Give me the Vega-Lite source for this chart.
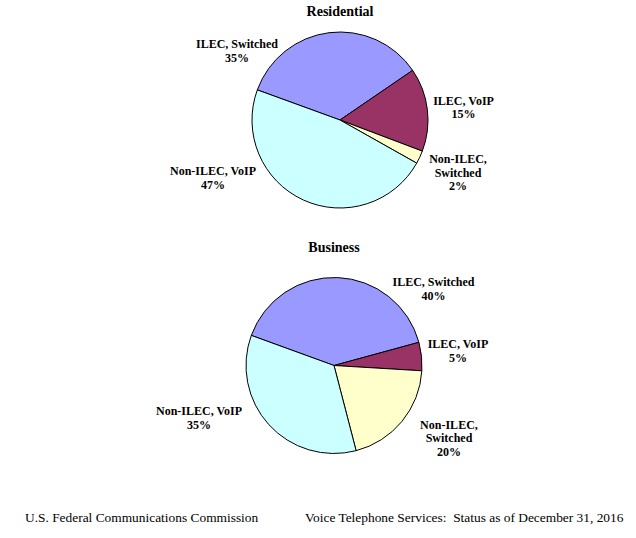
{
  "$schema": "https://vega.github.io/schema/vega-lite/v6.json",
  "background": "white",
  "padding": {"left": 25, "top": 5, "right": 0, "bottom": 10},
  "datasets": {
    "shares": [
      {"chart": "Residential", "category": "ILEC, Switched", "value": 34.9, "label": "ILEC, Switched\n35%"},
      {"chart": "Residential", "category": "ILEC, VoIP", "value": 15.3, "label": "ILEC, VoIP\n15%"},
      {"chart": "Residential", "category": "Non-ILEC, Switched", "value": 2.4, "label": "Non-ILEC,\nSwitched\n2%"},
      {"chart": "Residential", "category": "Non-ILEC, VoIP", "value": 47.4, "label": "Non-ILEC, VoIP\n47%"},
      {"chart": "Business", "category": "ILEC, Switched", "value": 40.2, "label": "ILEC, Switched\n40%"},
      {"chart": "Business", "category": "ILEC, VoIP", "value": 5.2, "label": "ILEC, VoIP\n5%"},
      {"chart": "Business", "category": "Non-ILEC, Switched", "value": 20.0, "label": "Non-ILEC,\nSwitched\n20%"},
      {"chart": "Business", "category": "Non-ILEC, VoIP", "value": 34.6, "label": "Non-ILEC, VoIP\n35%"}
    ]
  },
  "title": {
    "text": "U.S. Federal Communications Commission\u00a0\u00a0\u00a0\u00a0\u00a0\u00a0\u00a0\u00a0\u00a0\u00a0\u00a0\u00a0\u00a0\u00a0Voice Telephone Services:\u00a0 Status as of December 31, 2016",
    "orient": "bottom",
    "anchor": "start",
    "dx": -25,
    "offset": 37,
    "fontSize": 13.4,
    "fontWeight": "normal",
    "font": "Liberation Serif",
    "color": "black"
  },
  "spacing": 24,
  "vconcat": [
    {
      "width": 580,
      "height": 194,
      "title": {"text": "Residential", "offset": 4},
      "data": {"name": "shares"},
      "transform": [{"filter": "datum.chart === 'Residential'"}],
      "encoding": {
        "theta": {"field": "value", "type": "quantitative", "stack": "normalize", "scale": {"range": [5.0615, 11.3447]}}
      },
      "layer": [
        {
          "mark": {"type": "arc", "outerRadius": 88, "stroke": "black", "strokeWidth": 1},
          "encoding": {
            "color": {"field": "category", "type": "nominal", "legend": null,
              "scale": {"domain": ["ILEC, Switched", "ILEC, VoIP", "Non-ILEC, Switched", "Non-ILEC, VoIP"], "range": ["#9999FF", "#993366", "#FFFFCC", "#CCFFFF"]}}
          }
        },
        {
          "mark": {"type": "text", "font": "Liberation Serif", "fontSize": 12, "fontWeight": "bold", "lineBreak": "\n", "lineHeight": 13.5, "align": "center", "baseline": "middle", "color": "black",
            "radius": {"expr": "{'ILEC, Switched': 128, 'ILEC, VoIP': 125, 'Non-ILEC, Switched': 124.3, 'Non-ILEC, VoIP': 136.9}[datum.category]"},
            "thetaOffset": {"expr": "{'ILEC, Switched': -0.810, 'ILEC, VoIP': -0.034, 'Non-ILEC, Switched': -0.117, 'Non-ILEC, VoIP': 0.757}[datum.category]"}},
          "encoding": {
            "detail": {"field": "category", "type": "nominal"},
            "text": {"field": "label", "type": "nominal"}
          }
        }
      ]
    },
    {
      "width": 568,
      "height": 217,
      "title": {"text": "Business", "offset": 2},
      "data": {"name": "shares"},
      "transform": [{"filter": "datum.chart === 'Business'"}],
      "encoding": {
        "theta": {"field": "value", "type": "quantitative", "stack": "normalize", "scale": {"range": [5.0615, 11.3447]}}
      },
      "layer": [
        {
          "mark": {"type": "arc", "outerRadius": 88, "stroke": "black", "strokeWidth": 1},
          "encoding": {
            "color": {"field": "category", "type": "nominal", "legend": null,
              "scale": {"domain": ["ILEC, Switched", "ILEC, VoIP", "Non-ILEC, Switched", "Non-ILEC, VoIP"], "range": ["#9999FF", "#993366", "#FFFFCC", "#CCFFFF"]}}
          }
        },
        {
          "mark": {"type": "text", "font": "Liberation Serif", "fontSize": 12, "fontWeight": "bold", "lineBreak": "\n", "lineHeight": 13.5, "align": "center", "baseline": "middle", "color": "black",
            "radius": {"expr": "{'ILEC, Switched': 129.6, 'ILEC, VoIP': 125.8, 'Non-ILEC, Switched': 129.3, 'Non-ILEC, VoIP': 142.6}[datum.category]"},
            "thetaOffset": {"expr": "{'ILEC, Switched': 0.834, 'ILEC, VoIP': -0.065, 'Non-ILEC, Switched': -0.213, 'Non-ILEC, VoIP': 0.410}[datum.category]"}},
          "encoding": {
            "detail": {"field": "category", "type": "nominal"},
            "text": {"field": "label", "type": "nominal"}
          }
        }
      ]
    }
  ],
  "config": {
    "view": {"stroke": null},
    "title": {"font": "Liberation Serif", "fontSize": 14, "fontWeight": "bold", "color": "black"}
  }
}
